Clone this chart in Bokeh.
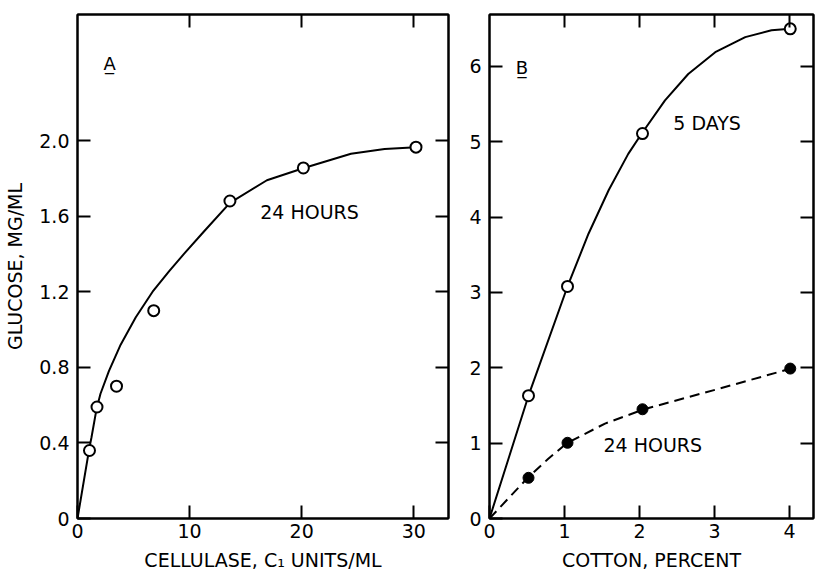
import math
from bokeh.plotting import figure
from bokeh.layouts import row
from bokeh.models import Range1d, LinearAxis, FixedTicker, CustomJSTickFormatter, Label
from bokeh.embed import file_html
from bokeh.resources import INLINE

# ---------------- data ----------------
# Panel A: glucose after 24 hours vs cellulase C1 units/ml
cellulase_units = [1.07, 1.74, 3.48, 6.8, 13.6, 20.15, 30.2]
glucose_a_24h = [0.36, 0.59, 0.70, 1.10, 1.68, 1.855, 1.965]
# hand-drawn fitted curve of panel A, read along its path
curve_a_x = [0, 1.05, 1.25, 1.7, 2.05, 2.8, 3.85, 5.2, 6.7, 8.2, 9.5, 11.3, 13.6, 16.9, 20.2, 24.4, 27.4, 30.2]
curve_a_y = [0, 0.37, 0.43, 0.58, 0.66, 0.78, 0.92, 1.065, 1.20, 1.31, 1.40, 1.52, 1.67, 1.79, 1.855, 1.93, 1.955, 1.965]

# Panel B: glucose vs cotton percent
cotton_pct = [0.52, 1.04, 2.04, 4.01]
glucose_b_5days = [1.63, 3.08, 5.11, 6.50]
glucose_b_24h = [0.54, 1.005, 1.45, 1.99]
curve_5d_x = [0, 0.52, 1.04, 1.32, 1.59, 1.85, 2.03, 2.34, 2.65, 3.01, 3.41, 3.76, 4.01]
curve_5d_y = [0, 1.63, 3.08, 3.78, 4.36, 4.84, 5.11, 5.55, 5.90, 6.19, 6.39, 6.48, 6.50]
curve_24h_x = [0, 0.51, 0.78, 1.04, 1.54, 2.06, 3.05, 4.02]
curve_24h_y = [0, 0.54, 0.79, 1.005, 1.26, 1.45, 1.72, 1.99]

a_x_ticks = [0, 10, 20, 30]
a_y_ticks = [0, 0.4, 0.8, 1.2, 1.6, 2.0]
b_x_ticks = [0, 1, 2, 3, 4]
b_y_ticks = [0, 1, 2, 3, 4, 5, 6]

FONT = "DejaVu Sans"
TICK_SIZE = "19px"
LABEL_SIZE = "19px"


def style_axis(ax, ticks, formatter=None, blank=False):
    ax.ticker = FixedTicker(ticks=ticks)
    if formatter is not None:
        ax.formatter = formatter
    ax.major_tick_in = 13
    ax.major_tick_out = 0
    ax.major_tick_line_width = 2
    ax.major_tick_line_color = "black"
    ax.minor_tick_line_color = None
    ax.axis_line_width = 2
    ax.axis_line_color = "black"
    ax.major_label_text_font = FONT
    ax.major_label_text_font_size = TICK_SIZE
    ax.major_label_text_color = "black"
    ax.axis_label_text_font = FONT
    ax.axis_label_text_font_size = LABEL_SIZE
    ax.axis_label_text_font_style = "normal"
    ax.axis_label_text_color = "black"
    if blank:
        ax.major_label_standoff = 0
    else:
        ax.major_label_standoff = 5


def make_fig(xr, yr, width, left, right):
    p = figure(x_range=Range1d(*xr), y_range=Range1d(*yr), width=width, height=576,
               output_backend="svg", toolbar_location=None, min_border=0)
    p.min_border_left = left
    p.min_border_right = right
    p.min_border_top = 14
    p.min_border_bottom = 58
    p.xgrid.visible = False
    p.ygrid.visible = False
    p.outline_line_color = "black"
    p.outline_line_width = 2
    p.background_fill_color = "white"
    p.border_fill_color = "white"
    return p


# ---------------- panel A ----------------
pa = make_fig((0, 33.1), (0, 2.667), 460, 77, 12)
style_axis(pa.xaxis[0], a_x_ticks)
pa.xaxis[0].axis_label = "CELLULASE, C\u2081 UNITS/ML"
pa.xaxis[0].axis_label_standoff = 8
style_axis(pa.yaxis[0], a_y_ticks,
           CustomJSTickFormatter(code="return tick == 0 ? '0' : tick.toFixed(1);"))
pa.yaxis[0].major_label_standoff = 8
pa.yaxis[0].axis_label = "GLUCOSE, MG/ML"
pa.yaxis[0].axis_label_standoff = 10
top_a = LinearAxis()
style_axis(top_a, [10, 20, 30], CustomJSTickFormatter(code="return '';"), blank=True)
pa.add_layout(top_a, "above")
right_a = LinearAxis()
style_axis(right_a, [0.4, 0.8, 1.2, 1.6, 2.0], CustomJSTickFormatter(code="return '';"), blank=True)
pa.add_layout(right_a, "right")

pa.line(curve_a_x, curve_a_y, line_color="black", line_width=2)
pa.scatter(cellulase_units, glucose_a_24h, size=11, marker="circle",
           fill_color="white", line_color="black", line_width=2)

pa.add_layout(Label(x=2.86, y=2.41, text="A\u0332", text_font=FONT, text_font_size="18px",
                    text_align="center", text_baseline="alphabetic", text_color="black"))
pa.add_layout(Label(x=16.3, y=1.62, text="24 HOURS", text_font=FONT, text_font_size=LABEL_SIZE,
                    text_align="left", text_baseline="alphabetic", text_color="black"))

# ---------------- panel B ----------------
pb = make_fig((0, 4.32), (0, 6.69), 355, 29, 2)
style_axis(pb.xaxis[0], b_x_ticks)
pb.xaxis[0].axis_label = "COTTON, PERCENT"
pb.xaxis[0].axis_label_standoff = 8
style_axis(pb.yaxis[0], b_y_ticks)
pb.yaxis[0].major_label_standoff = 8
top_b = LinearAxis()
style_axis(top_b, [1, 2, 3, 4], CustomJSTickFormatter(code="return '';"), blank=True)
pb.add_layout(top_b, "above")
right_b = LinearAxis()
style_axis(right_b, [1, 2, 3, 4, 5, 6], CustomJSTickFormatter(code="return '';"), blank=True)
pb.add_layout(right_b, "right")

pb.line(curve_5d_x, curve_5d_y, line_color="black", line_width=2)
pb.line(curve_24h_x, curve_24h_y, line_color="black", line_width=2, line_dash="10 6")
pb.scatter(cotton_pct, glucose_b_5days, size=11, marker="circle",
           fill_color="white", line_color="black", line_width=2)
pb.scatter(cotton_pct, glucose_b_24h, size=11, marker="circle",
           fill_color="black", line_color="black", line_width=1)

pb.add_layout(Label(x=0.35, y=5.98, text="B\u0332", text_font=FONT, text_font_size="18px",
                    text_align="left", text_baseline="alphabetic", text_color="black"))
pb.add_layout(Label(x=2.45, y=5.25, text="5 DAYS", text_font=FONT, text_font_size=LABEL_SIZE,
                    text_align="left", text_baseline="alphabetic", text_color="black"))
pb.add_layout(Label(x=1.52, y=0.97, text="24 HOURS", text_font=FONT, text_font_size=LABEL_SIZE,
                    text_align="left", text_baseline="alphabetic", text_color="black"))

layout = row(pa, pb, spacing=0)
with open("out.html", "w") as f:
    f.write(file_html(layout, INLINE))
